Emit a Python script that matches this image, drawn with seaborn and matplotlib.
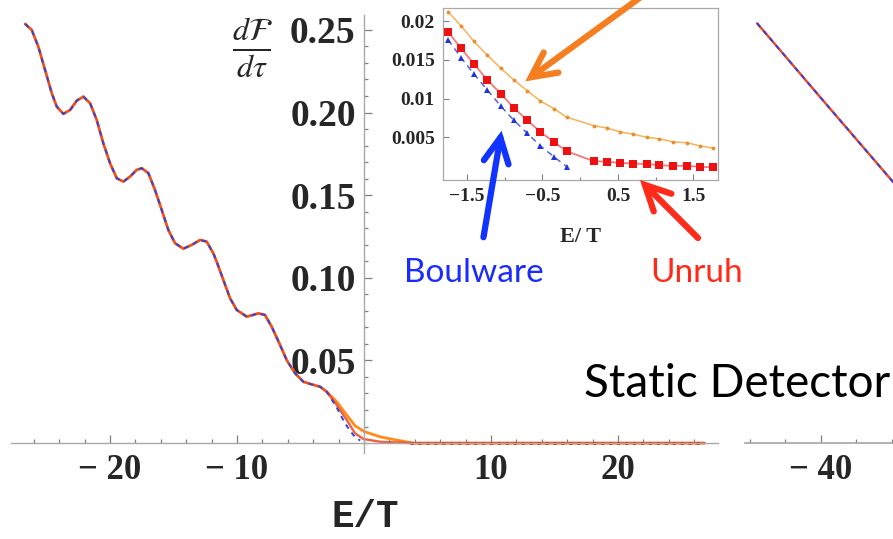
import matplotlib
matplotlib.use("Agg")
import matplotlib.pyplot as plt
import matplotlib.patches as mpatches
from matplotlib.ticker import MultipleLocator, FixedLocator
import seaborn as sns
import pandas as pd

# ---------------- data ----------------
# main plot: shared part of the three detector-response curves
common_E = [-26.69, -26.17, -25.65, -25.12, -24.59, -24.20, -23.68, -23.15, -22.62, -22.10,
            -21.57, -21.05, -20.53, -20.00, -19.47, -18.95, -18.43, -17.90, -17.50, -16.98,
            -16.46, -15.93, -15.41, -14.88, -14.23, -13.57, -12.91, -12.39, -11.87, -11.60,
            -11.08, -10.55, -10.02, -9.24, -8.80, -8.32, -7.80, -7.27, -6.61, -6.09,
            -5.43, -4.78, -4.12, -3.46, -2.94]
common_v = [0.2536, 0.2500, 0.2399, 0.2258, 0.2117, 0.2036, 0.1992, 0.2015, 0.2072, 0.2096,
            0.2056, 0.1955, 0.1814, 0.1693, 0.1602, 0.1582, 0.1612, 0.1653, 0.1663, 0.1633,
            0.1531, 0.1410, 0.1289, 0.1209, 0.1176, 0.1199, 0.1229, 0.1219, 0.1148, 0.1097,
            0.0987, 0.0876, 0.0805, 0.0765, 0.0774, 0.0785, 0.0775, 0.0704, 0.0593, 0.0502,
            0.0422, 0.0371, 0.0355, 0.0341, 0.0311]

unruh_tail_E = [-2.15, -1.36, -0.71, -0.06, 1.26, 3.60, 26.80]
unruh_tail_v = [0.0230, 0.0139, 0.0059, 0.0025, 0.0008, 0.0, 0.0]
boul_tail_E = [-2.15, -1.50, -0.84, -0.31]
boul_tail_v = [0.0215, 0.0119, 0.0048, 0.0015]
hh_tail_E = [-2.15, -1.36, -0.71, 0.00, 1.26, 2.57, 3.90, 26.80]
hh_tail_v = [0.0250, 0.0169, 0.0105, 0.0070, 0.0038, 0.0018, 0.0, 0.0]

# inset
inset_E = [-1.75, -1.58, -1.41, -1.23, -1.05, -0.88, -0.70, -0.53, -0.35, -0.18,
           0.18, 0.35, 0.53, 0.70, 0.88, 1.05, 1.23, 1.41, 1.58, 1.76]
inset_hh = [0.0212, 0.0194, 0.0174, 0.0156, 0.0139, 0.0124, 0.0110, 0.0097, 0.0087, 0.0076,
            0.0065, 0.0062, 0.0057, 0.0054, 0.0050, 0.0048, 0.0044, 0.0043, 0.0039, 0.0036]
inset_unruh = [0.0186, 0.0165, 0.0145, 0.0124, 0.0106, 0.0088, 0.0072, 0.0057, 0.0044, 0.0032,
               0.0019, 0.00185, 0.0017, 0.0016, 0.00155, 0.0014, 0.0013, 0.0013, 0.0012, 0.0011]
inset_boul_E = [-1.75, -1.58, -1.41, -1.23, -1.05, -0.88, -0.70, -0.53, -0.35, -0.18]
inset_boul = [0.0176, 0.0153, 0.0132, 0.0111, 0.0090, 0.0072, 0.0055, 0.0039, 0.0025, 0.0012]

# partial second panel at the right edge
right_E = [-43.6, -39.7, -35.7]
right_v = [0.254, 0.205, 0.155]

main_xticks = [-20, -10, 10, 20]
main_xticklabels = ["\u2212 20", "\u2212 10", "10", "20"]
main_yticks = [0.05, 0.10, 0.15, 0.20, 0.25]
main_yticklabels = ["0.05", "0.10", "0.15", "0.20", "0.25"]
inset_xticks = [-1.5, -0.5, 0.5, 1.5]
inset_xticklabels = ["\u22121.5", "\u22120.5", "0.5", "1.5"]
inset_yticks = [0.005, 0.01, 0.015, 0.02]
inset_yticklabels = ["0.005", "0.01", "0.015", "0.02"]
right_xticks = [-40]
right_xticklabels = ["\u2212 40"]

# ---------------- figure ----------------
sns.set_theme(style="white")
plt.rcParams["font.family"] = ["Liberation Serif", "DejaVu Serif"]
plt.rcParams["mathtext.fontset"] = "stix"

W, H = 893, 539
fig = plt.figure(figsize=(W / 100, H / 100), dpi=100)
fig.patch.set_facecolor("white")


def box(l, t, r, b):
    return [l / W, 1 - b / H, (r - l) / W, (b - t) / H]


def px(x, y):
    return (x / W, 1 - y / H)


C_BLUE = "#3344DD"
C_RED = "#EE4422"
C_ORANGE = "#FF8C1A"
AX_GREY = "#A8A8A8"
TICK_GREY = "#808080"

unruh_df = pd.DataFrame({"E": common_E + unruh_tail_E, "v": common_v + unruh_tail_v})
boul_df = pd.DataFrame({"E": common_E + boul_tail_E, "v": common_v + boul_tail_v})
hh_df = pd.DataFrame({"E": common_E + hh_tail_E, "v": common_v + hh_tail_v})

# ---- main axes ----
ax = fig.add_axes(box(11, 15, 718, 453))
ax.set_facecolor("none")
sns.lineplot(data=hh_df, x="E", y="v", ax=ax, color=C_ORANGE, lw=2.0, clip_on=False)
sns.lineplot(data=unruh_df, x="E", y="v", ax=ax, color=C_RED, lw=1.7, alpha=0.85, clip_on=False)
zero_part = unruh_df[unruh_df["v"] == 0]
sns.lineplot(data=zero_part, x="E", y="v", ax=ax, color="#E8341C", lw=2.2,
             linestyle=(0, (1, 1.6)), clip_on=False)
sns.lineplot(data=boul_df, x="E", y="v", ax=ax, color=C_BLUE, lw=1.4,
             linestyle=(0, (2.5, 2.5)), clip_on=False)

ax.set_xlim(-27.8, 27.87)
ax.set_ylim(-0.006, 0.259)
for s in ["top", "right"]:
    ax.spines[s].set_visible(False)
ax.spines["left"].set_position(("data", 0))
ax.spines["bottom"].set_position(("data", 0))
for s in ["left", "bottom"]:
    ax.spines[s].set_color(AX_GREY)
    ax.spines[s].set_linewidth(1.0)
ax.set_xticks(main_xticks)
ax.set_xticklabels(main_xticklabels, fontsize=25, fontweight="bold", family="Liberation Serif")
ax.set_yticks(main_yticks)
ax.set_yticklabels(main_yticklabels, fontsize=27, fontweight="bold", family="Liberation Serif")
ax.xaxis.set_minor_locator(MultipleLocator(2))
ax.yaxis.set_minor_locator(MultipleLocator(0.01))
ax.tick_params(which="both", direction="in", color=TICK_GREY, width=0.9,
               bottom=True, left=True, top=False, right=False)
ax.tick_params(which="major", length=6)
ax.tick_params(which="minor", length=3)
ax.tick_params(axis="x", which="major", pad=8)
ax.tick_params(axis="y", which="major", pad=6)
ax.set_xlabel("")
ax.set_ylabel("")

fig.text(*px(365, 517), "E/T", fontsize=27, fontweight="bold", family="Liberation Mono",
         ha="center", va="center")
fig.text(*px(252, 48), r"$\frac{d\mathcal{F}}{d\tau}$", fontsize=33, ha="center", va="center")

# ---- right partial panel ----
axr = fig.add_axes(box(745, 15, 1000, 453))
axr.set_facecolor("none")
right_df = pd.DataFrame({"E": right_E, "v": right_v})
sns.lineplot(data=right_df, x="E", y="v", ax=axr, color=C_RED, lw=1.7)
sns.lineplot(data=right_df, x="E", y="v", ax=axr, color=C_BLUE, lw=1.4, linestyle=(0, (2.5, 2.5)))
axr.set_xlim(-44.28, -44.28 + 255 / 17.75)
axr.set_ylim(-0.006, 0.259)
for s in ["top", "right", "left"]:
    axr.spines[s].set_visible(False)
axr.spines["bottom"].set_position(("data", 0))
axr.spines["bottom"].set_color(AX_GREY)
axr.set_xticks(right_xticks)
axr.set_xticklabels(right_xticklabels, fontsize=25, fontweight="bold", family="Liberation Serif")
axr.xaxis.set_minor_locator(MultipleLocator(2))
axr.set_yticks([])
axr.tick_params(which="both", direction="in", color=TICK_GREY, width=0.9,
                bottom=True, left=False, top=False, right=False)
axr.tick_params(which="major", length=6, pad=8)
axr.tick_params(which="minor", length=3)
axr.set_xlabel("")
axr.set_ylabel("")

# ---- inset ----
axi = fig.add_axes(box(443, 8, 718, 180))
axi.set_facecolor("white")
ih = pd.DataFrame({"E": inset_E, "v": inset_hh})
iu = pd.DataFrame({"E": inset_E, "v": inset_unruh})
ib = pd.DataFrame({"E": inset_boul_E, "v": inset_boul})
sns.lineplot(data=ih, x="E", y="v", ax=axi, color="#F7B25A", lw=1.1, marker="o",
             markersize=2.8, markerfacecolor="#E8902E", markeredgewidth=0)
sns.lineplot(data=iu, x="E", y="v", ax=axi, color="#F27A7A", lw=1.3, marker="s",
             markersize=5.5, markerfacecolor="#EE1111", markeredgewidth=0)
sns.lineplot(data=ib, x="E", y="v", ax=axi, color="#5566DD", lw=1.1, linestyle=(0, (4, 3)),
             marker="^", markersize=5, markerfacecolor="#2233DD", markeredgewidth=0)
axi.set_xlim(-1.818, 1.825)
axi.set_ylim(-0.00052, 0.0217)
for s in axi.spines.values():
    s.set_color(AX_GREY)
    s.set_linewidth(0.9)
axi.set_xticks(inset_xticks)
axi.set_xticklabels(inset_xticklabels, fontsize=14, fontweight="bold", family="Liberation Serif")
axi.set_yticks(inset_yticks)
axi.set_yticklabels(inset_yticklabels, fontsize=14, fontweight="bold", family="Liberation Serif")
axi.xaxis.set_minor_locator(FixedLocator([-1.0, 0.0, 1.0]))
axi.tick_params(which="both", direction="in", color=TICK_GREY, width=0.8,
                bottom=True, left=True, top=False, right=False)
axi.tick_params(which="major", length=4, pad=6)
axi.tick_params(which="minor", length=2.5)
axi.set_xlabel("")
axi.set_ylabel("")
fig.text(*px(580, 237), "E/ T", fontsize=16, fontweight="bold", family="Liberation Serif",
         ha="center", va="center")

# ---- annotations ----
fig.text(*px(474, 273), "Boulware", fontsize=24, family="Lato", color="#1A2BFF",
         ha="center", va="center")
fig.text(*px(697, 273), "Unruh", fontsize=24, family="Lato", color="#FF2A1A",
         ha="center", va="center")
fig.text(*px(737, 384), "Static Detector", fontsize=33, family="Lato", color="black",
         ha="center", va="center")

arrows = [((645, -6), (523, 83), "#F57F20"),
          ((483, 240), (502, 128), "#1133FF"),
          ((700, 240), (638, 178), "#FF2B1A")]
for tail, head, col in arrows:
    arr = mpatches.FancyArrowPatch(px(*tail), px(*head), transform=fig.transFigure,
                                   arrowstyle="->,head_length=0.9,head_width=0.45",
                                   mutation_scale=20, lw=4.5, color=col,
                                   capstyle="round", joinstyle="miter")
    fig.add_artist(arr)

fig.savefig("out.png", dpi=100, facecolor="white")
